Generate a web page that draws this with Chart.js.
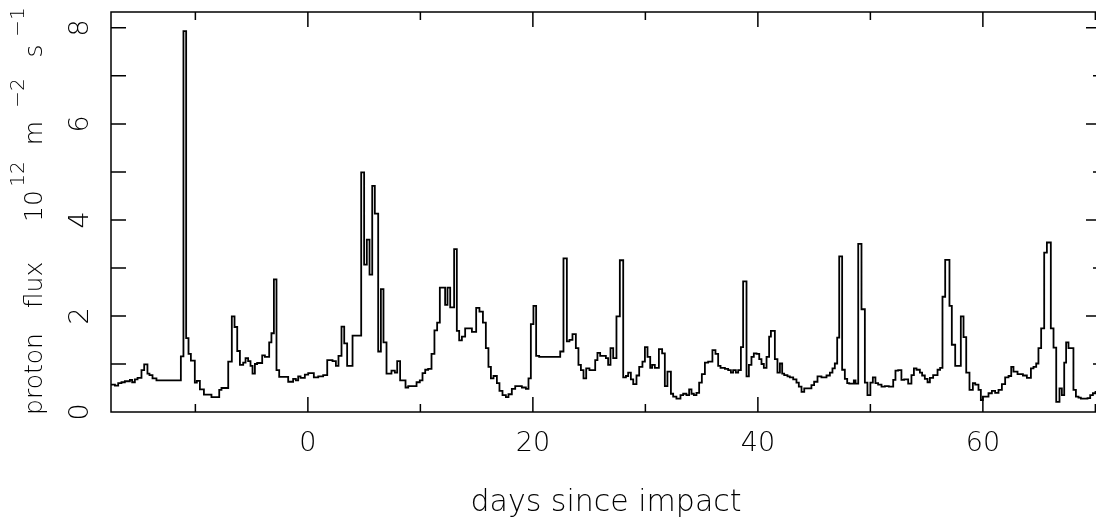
<!DOCTYPE html>
<html>
<head>
<meta charset="utf-8">
<script src="https://cdn.jsdelivr.net/npm/chart.js@4.4.1/dist/chart.umd.min.js"></script>
<style>
  html, body { margin: 0; padding: 0; background: #fff; overflow: hidden; }
  #wrap { width: 1096px; height: 518px; overflow: hidden; }
  canvas { display: block; }
</style>
</head>
<body>
<div id="wrap"><canvas id="fluxChart" width="1102" height="518"></canvas></div>
<script>
// proton flux, one level per step (day where the step starts -> flux)
const stepDays = [
  -17.5, -17.15, -16.86, -16.57, -16.27, -15.82, -15.62, -15.38, -15.14, -14.79,
  -14.55, -14.26, -14.08, -13.81, -13.46, -11.29, -11.06, -10.82, -10.61, -10.4,
  -10.05, -9.87, -9.6, -9.24, -8.57, -7.88, -7.68, -7.08, -6.76, -6.52,
  -6.28, -6.04, -5.75, -5.54, -5.31, -5.1, -4.92, -4.71, -4.51, -4.06,
  -3.82, -3.44, -3.24, -3.02, -2.79, -2.55, -1.75, -1.31, -1.07, -0.86,
  -0.65, -0.27, 0.03, 0.53, 0.92, 1.36, 1.72, 2.19, 2.49, 2.72,
  2.99, 3.23, 3.49, 3.97, 4.74, 5.0, 5.24, 5.48, 5.72, 5.95,
  6.25, 6.49, 6.72, 6.99, 7.43, 7.73, 7.94, 8.2, 8.68, 8.92,
  9.66, 9.95, 10.19, 10.43, 10.69, 10.99, 11.25, 11.49, 11.73, 12.2,
  12.41, 12.65, 13.0, 13.24, 13.45, 13.69, 13.98, 14.58, 14.96, 15.25,
  15.56, 15.82, 16.05, 16.27, 16.5, 16.8, 17.03, 17.3, 17.6, 17.83,
  18.13, 18.43, 19.02, 19.38, 19.61, 19.82, 20.05, 20.29, 20.56, 22.43,
  22.72, 23.02, 23.25, 23.52, 23.82, 24.05, 24.27, 24.5, 24.74, 25.03,
  25.54, 25.74, 25.98, 26.25, 26.49, 26.69, 26.9, 27.14, 27.43, 27.73,
  28.03, 28.27, 28.47, 28.71, 28.92, 29.21, 29.45, 29.74, 29.96, 30.19,
  30.43, 30.6, 30.84, 31.2, 31.49, 31.73, 31.96, 32.27, 32.47, 32.76,
  33.12, 33.36, 33.65, 33.89, 34.1, 34.31, 34.54, 34.78, 35.02, 35.29,
  35.58, 35.96, 36.23, 36.47, 36.68, 37.07, 37.36, 37.6, 37.8, 38.04,
  38.25, 38.49, 38.69, 38.99, 39.2, 39.43, 39.64, 39.88, 40.12, 40.32,
  40.53, 40.77, 41.0, 41.16, 41.51, 41.74, 41.96, 42.16, 42.34, 42.63,
  42.84, 43.14, 43.43, 43.64, 43.88, 44.12, 44.76, 45.0, 45.3, 45.65,
  46.1, 46.4, 46.63, 46.84, 47.05, 47.23, 47.49, 47.73, 47.94, 48.12,
  48.53, 48.68, 48.92, 49.21, 49.51, 49.74, 50.0, 50.22, 50.45, 50.69,
  50.99, 51.29, 51.64, 52.03, 52.23, 52.47, 52.76, 53.0, 53.36, 53.65,
  53.87, 54.1, 54.4, 54.6, 54.84, 55.08, 55.29, 55.58, 55.97, 56.2,
  56.41, 56.65, 57.03, 57.24, 57.54, 58.04, 58.28, 58.52, 58.81, 59.11,
  59.32, 59.61, 59.82, 60.0, 60.5, 60.8, 61.09, 61.39, 61.69, 61.98,
  62.28, 62.52, 62.72, 63.08, 63.56, 63.91, 64.27, 64.5, 64.74, 64.94,
  65.18, 65.45, 65.69, 66.04, 66.28, 66.52, 66.81, 67.02, 67.23, 67.4,
  67.61, 68.05, 68.27, 68.5, 68.71, 69.3, 69.54, 69.78, 70.01
];
const fluxValues = [
  0.57, 0.55, 0.6, 0.62, 0.64, 0.67, 0.62, 0.68, 0.71, 0.87,
  0.99, 0.8, 0.77, 0.7, 0.66, 1.16, 7.93, 1.54, 1.21, 1.07,
  0.61, 0.65, 0.47, 0.36, 0.31, 0.46, 0.5, 1.05, 1.99, 1.77,
  1.27, 0.98, 1.03, 1.12, 1.06, 0.96, 0.8, 1.0, 1.02, 1.18,
  1.15, 1.45, 1.64, 2.76, 0.87, 0.73, 0.63, 0.69, 0.66, 0.74,
  0.71, 0.78, 0.81, 0.72, 0.74, 0.77, 1.08, 1.06, 0.96, 1.17,
  1.78, 1.43, 0.96, 1.59, 4.99, 3.07, 3.59, 2.86, 4.71, 4.13,
  1.26, 2.56, 1.45, 0.8, 0.86, 0.82, 1.06, 0.66, 0.51, 0.54,
  0.62, 0.66, 0.81, 0.88, 0.9, 1.21, 1.7, 1.86, 2.59, 2.23,
  2.59, 2.18, 3.39, 1.69, 1.49, 1.57, 1.74, 1.67, 2.17, 2.09,
  1.86, 1.33, 0.94, 0.7, 0.75, 0.6, 0.44, 0.35, 0.31, 0.37,
  0.48, 0.54, 0.51, 0.48, 0.7, 1.83, 2.21, 1.17, 1.15, 1.26,
  3.2, 1.47, 1.5, 1.62, 1.33, 0.98, 0.87, 0.7, 0.91, 0.87,
  1.08, 1.23, 1.17, 1.17, 1.12, 0.98, 1.33, 1.12, 1.99, 3.16,
  0.72, 0.75, 0.82, 0.68, 0.58, 0.76, 0.94, 1.05, 1.35, 1.15,
  0.92, 0.98, 0.92, 1.31, 1.22, 0.54, 0.84, 0.38, 0.32, 0.28,
  0.35, 0.38, 0.35, 0.47, 0.38, 0.35, 0.4, 0.61, 0.79, 1.03,
  1.05, 1.29, 1.21, 0.96, 0.92, 0.9, 0.87, 0.82, 0.87, 0.82,
  0.87, 1.35, 2.72, 0.74, 0.98, 1.15, 1.22, 1.21, 1.1, 1.0,
  0.92, 1.15, 1.57, 1.69, 1.1, 0.82, 1.01, 0.8, 0.77, 0.74,
  0.72, 0.68, 0.61, 0.53, 0.42, 0.49, 0.56, 0.63, 0.74, 0.72,
  0.76, 0.82, 0.91, 1.01, 1.55, 3.24, 0.88, 0.69, 0.6, 0.59,
  0.66, 0.59, 3.5, 2.14, 0.61, 0.35, 0.61, 0.72, 0.6, 0.57,
  0.53, 0.54, 0.53, 0.67, 0.86, 0.87, 0.67, 0.68, 0.59, 0.77,
  0.91, 0.88, 0.82, 0.76, 0.69, 0.62, 0.71, 0.77, 0.88, 0.92,
  2.4, 3.17, 2.21, 1.4, 0.96, 1.99, 1.56, 0.82, 0.46, 0.6,
  0.57, 0.46, 0.25, 0.32, 0.39, 0.44, 0.4, 0.46, 0.58, 0.72,
  0.75, 0.94, 0.84, 0.79, 0.76, 0.71, 0.91, 0.94, 1.01, 1.33,
  1.74, 3.32, 3.53, 1.74, 1.34, 0.21, 0.49, 0.35, 1.03, 1.45,
  1.33, 0.46, 0.32, 0.3, 0.28, 0.29, 0.35, 0.39, 0.42
];
const lastStepEnd = 70.6;

// axis ranges and ticks
const xRange = [-17.5, 70.5];
const yRange = [0, 8.33];
const xTickLabels = [0, 20, 40, 60];
const yTickLabels = [0, 2, 4, 6, 8];
const xTickMarks = [-10, 0, 10, 20, 30, 40, 50, 60, 70];
const yTickMarks = [1, 2, 3, 4, 5, 6, 7, 8];

// axis titles: y title pieces are [text, superscript?]
const yTitleParts = [
  ['proton', false], ['flux', false], ['10', false], ['12', true],
  ['m', false], ['\u22122', true], ['s', false], ['\u22121', true]
];
const xTitle = 'days since impact';

const FONT = '"DejaVu Sans", "Liberation Sans", sans-serif';

// build step points from the arrays
function buildPoints() {
  const pts = stepDays.map((d, i) => ({ x: d, y: fluxValues[i] }));
  pts.push({ x: lastStepEnd, y: fluxValues[fluxValues.length - 1] });
  return pts;
}

// frame, inward ticks and the y title (with superscripts)
const framePlugin = {
  id: 'frame',
  afterDraw(chart) {
    const { ctx, chartArea: a, scales } = chart;
    const xs = scales.x, ys = scales.y;
    ctx.save();
    ctx.strokeStyle = '#000';
    ctx.lineWidth = 1.5;
    ctx.strokeRect(a.left, a.top, a.right - a.left, a.bottom - a.top);

    ctx.beginPath();
    xTickMarks.forEach(v => {
      const px = xs.getPixelForValue(v);
      const len = v % 20 === 0 ? 15 : 8;
      ctx.moveTo(px, a.bottom); ctx.lineTo(px, a.bottom - len);
      ctx.moveTo(px, a.top); ctx.lineTo(px, a.top + len);
    });
    yTickMarks.forEach(v => {
      const py = ys.getPixelForValue(v);
      ctx.moveTo(a.left, py); ctx.lineTo(a.left + 15, py);
      const len = v % 2 === 0 ? 15 : 8;
      ctx.moveTo(a.right, py); ctx.lineTo(a.right - len, py);
    });
    ctx.stroke();

    // rotated y title, centred on the plot height like the original
    const centres = [38, 127, 206, 238, 279, 319, 361, 390];
    ctx.translate(42, 412);
    ctx.rotate(-Math.PI / 2);
    ctx.fillStyle = '#000';
    ctx.textBaseline = 'alphabetic';
    ctx.textAlign = 'center';
    yTitleParts.forEach(([t, sup], i) => {
      ctx.font = (sup ? '200 20px ' : '200 25px ') + FONT;
      ctx.fillText(t, centres[i], sup ? -18 : 0);
    });
    ctx.restore();
  }
};

// draw the chart
function renderFluxChart() {
  const ctx = document.getElementById('fluxChart').getContext('2d');
  new Chart(ctx, {
    type: 'line',
    data: {
      datasets: [{
        data: buildPoints(),
        borderColor: '#000',
        borderWidth: 1.8,
        pointRadius: 0,
        stepped: true,
        fill: false
      }]
    },
    options: {
      responsive: false,
      animation: false,
      devicePixelRatio: 1,
      layout: { padding: { top: 12, right: 1, left: 0, bottom: 0 } },
      plugins: { legend: { display: false }, tooltip: { enabled: false } },
      scales: {
        x: {
          type: 'linear',
          min: xRange[0],
          max: xRange[1],
          grid: { display: false, drawTicks: false },
          border: { display: false },
          afterBuildTicks: s => { s.ticks = xTickLabels.map(v => ({ value: v })); },
          afterFit: s => { s.height = 106; s.paddingLeft = 0; s.paddingRight = 0; },
          ticks: {
            padding: 16,
            maxRotation: 0,
            color: '#000',
            font: { family: FONT, size: 27, weight: '200' }
          },
          title: {
            display: true,
            text: xTitle,
            color: '#000',
            padding: { top: 0, bottom: 0 },
            font: { family: FONT, size: 30, weight: '200', lineHeight: 1 }
          }
        },
        y: {
          type: 'linear',
          min: yRange[0],
          max: yRange[1],
          grid: { display: false, drawTicks: false },
          border: { display: false },
          afterBuildTicks: s => { s.ticks = yTickLabels.map(v => ({ value: v })); },
          afterFit: s => { s.width = 111; s.paddingTop = 0; s.paddingBottom = 0; },
          ticks: {
            padding: 21,
            minRotation: 90,
            maxRotation: 90,
            crossAlign: 'center',
            color: '#000',
            font: { family: FONT, size: 27, weight: '200' }
          }
        }
      }
    },
    plugins: [framePlugin]
  });
}

document.addEventListener('DOMContentLoaded', renderFluxChart);
</script>
</body>
</html>
